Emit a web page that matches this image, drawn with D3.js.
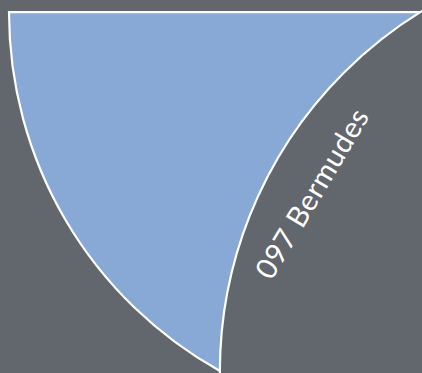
<!DOCTYPE html>
<html><head><meta charset="utf-8">
<script src="https://cdn.jsdelivr.net/npm/d3@7"></script>
<style>html,body{margin:0;padding:0;background:#62666d;overflow:hidden}</style>
</head><body>
<svg id="c" width="422" height="373"></svg>
<script>
// Data (zoomed view of two overlapping circular groups)
const groupNames = ["", "097 Bermudes"];
const groupX = [0, 0.543];        // centre, in radius units
const groupY = [0, 0.876];
const groupR = [1, 1.03];
const sliceStart = [3.65];        // angular extent of the visible blue slice (radians)
const sliceEnd = [4.712];
const groupColors = ["#88a9d5", "#62666d"];

const W = 422, H = 373;
const svg = d3.select("#c");
const unit = 411;
const x = d3.scaleLinear().domain([0, 1]).range([420, 420 + unit]);
const y = d3.scaleLinear().domain([0, 1]).range([12, 12 + unit]);
const r = d3.scaleLinear().domain([0, 1]).range([0, unit]);

svg.append("rect").attr("width", W).attr("height", H).attr("fill", "#62666d");

// blue slice of group 0
const arc = d3.arc().innerRadius(0).outerRadius(r(groupR[0]));
svg.append("path")
  .attr("transform", `translate(${x(groupX[0])},${y(groupY[0])})`)
  .attr("d", arc({startAngle: sliceStart[0], endAngle: sliceEnd[0]}))
  .attr("fill", groupColors[0]).attr("stroke", "#fff").attr("stroke-width", 2.2);

// horizontal edge continuing to the right
svg.append("line")
  .attr("x1", x(groupX[0])).attr("x2", W + 5)
  .attr("y1", y(groupY[0])).attr("y2", y(groupY[0]))
  .attr("stroke", "#fff").attr("stroke-width", 2.2);

// group 1 circle
const cx1 = x(groupX[1]), cy1 = y(groupY[1]), r1 = r(groupR[1]);
svg.append("circle")
  .attr("cx", cx1).attr("cy", cy1).attr("r", r1)
  .attr("fill", groupColors[1]).attr("stroke", "#fff").attr("stroke-width", 2.2);

// label along the tangent of group 1
const ang = -2.647; // direction from centre to label (radians)
const lr = r1 - 50;
const lx = cx1 + lr * Math.cos(ang), ly = cy1 + lr * Math.sin(ang);
const rot = ang * 180 / Math.PI + 90 + 2.5;
svg.append("text")
  .attr("transform", `translate(${lx},${ly}) rotate(${rot})`)
  .attr("text-anchor", "middle").attr("dominant-baseline", "middle")
  .attr("fill", "#fff")
  .attr("font-family", "Lato, 'Open Sans', sans-serif")
  .attr("font-size", 29)
  .attr("letter-spacing", 0.5)
  .text(groupNames[1]);
</script>
</body></html>
